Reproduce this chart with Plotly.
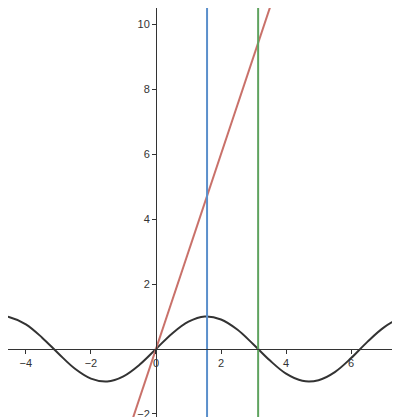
import plotly.graph_objects as go

# sine curve
sin_x = [-4.75, -4.5, -4.0, -3.5, -3.0, -2.5, -2.0, -1.5, -1.0, -0.5, 0.0, 0.5, 1.0, 1.5, 2.0,
         2.5, 3.0, 3.5, 4.0, 4.5, 5.0, 5.5, 6.0, 6.5, 7.0, 7.5, 8.0]
sin_y = [1.0, 0.98, 0.76, 0.35, -0.14, -0.6, -0.91, -1.0, -0.84, -0.48, 0.0, 0.48, 0.84, 1.0, 0.91,
         0.6, 0.14, -0.35, -0.76, -0.98, -0.96, -0.71, -0.28, 0.22, 0.66, 0.94, 0.99]
line_x = [-1.0, 4.0]
line_y = [-3.0, 12.0]
blue_x = 1.5708
green_x = 3.1416
x_range = [-4.55, 7.75]
y_range = [-2.34, 10.5]
x_ticks = [-4, -2, 0, 2, 4, 6]
y_ticks = [-2, 2, 4, 6, 8, 10]

fig = go.Figure()
fig.add_trace(go.Scatter(x=sin_x, y=sin_y, mode="lines", line=dict(color="#333333", width=2, shape="spline")))
fig.add_trace(go.Scatter(x=line_x, y=line_y, mode="lines", line=dict(color="#c9716a", width=2)))
fig.add_trace(go.Scatter(x=[blue_x, blue_x], y=[-5, 15], mode="lines", line=dict(color="#5b8fcb", width=2)))
fig.add_trace(go.Scatter(x=[green_x, green_x], y=[-5, 15], mode="lines", line=dict(color="#5fa35f", width=2)))

xpos = (0 - y_range[0]) / (y_range[1] - y_range[0])
ypos = (0 - x_range[0]) / (x_range[1] - x_range[0])
fig.update_layout(
    width=400, height=417, margin=dict(l=0, r=0, t=0, b=0),
    showlegend=False, plot_bgcolor="white", paper_bgcolor="white",
    font=dict(family="Arial", size=11, color="#333333"),
    xaxis=dict(range=x_range, tickvals=x_ticks, anchor="free", position=xpos, automargin=False,
               showline=True, linecolor="#333333", showgrid=False, zeroline=False,
               ticks="outside", ticklen=4, tickcolor="#333333"),
    yaxis=dict(range=y_range, tickvals=y_ticks, anchor="free", position=ypos, automargin=False,
               showline=True, linecolor="#333333", showgrid=False, zeroline=False,
               ticks="outside", ticklen=4, tickcolor="#333333"),
)
fig.write_html("out.html")
